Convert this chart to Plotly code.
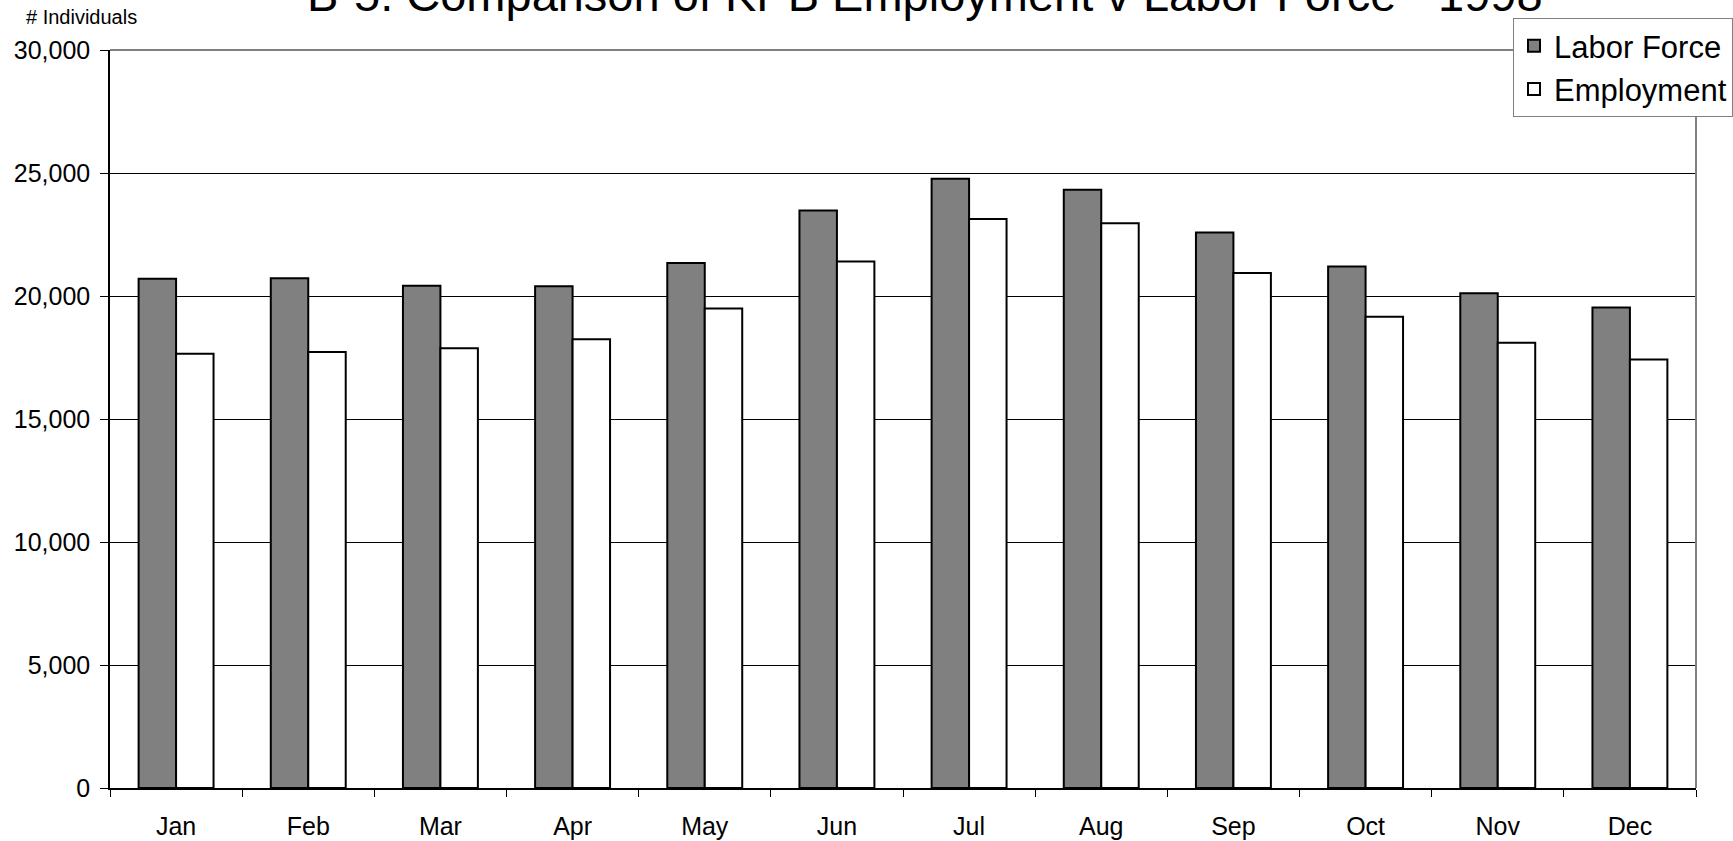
import plotly.graph_objects as go

months = ["Jan", "Feb", "Mar", "Apr", "May", "Jun", "Jul", "Aug", "Sep", "Oct", "Nov", "Dec"]
labor_force = [20700, 20720, 20420, 20400, 21340, 23480, 24770, 24320, 22580, 21200, 20110, 19530]
employment = [17650, 17720, 17880, 18240, 19490, 21400, 23130, 22960, 20930, 19160, 18100, 17420]
y_ticks = [0, 5000, 10000, 15000, 20000, 25000, 30000]

FONT = "Liberation Sans, Arial, sans-serif"

fig = go.Figure()
fig.add_trace(go.Bar(
    x=months, y=labor_force, name="Labor Force",
    marker=dict(color="#808080", line=dict(color="black", width=2)),
))
fig.add_trace(go.Bar(
    x=months, y=employment, name="Employment",
    marker=dict(color="white", line=dict(color="black", width=2)),
))

W, H = 1733, 841
L, R, T, B = 110, 37, 50, 53
PW, PH = W - L - R, H - T - B

fig.update_layout(
    width=W, height=H,
    margin=dict(l=L, r=R, t=T, b=B, autoexpand=False),
    paper_bgcolor="white", plot_bgcolor="white",
    barmode="group", bargap=0.433, bargroupgap=0,
    font=dict(family=FONT, color="black", size=25),
    showlegend=True,
    legend=dict(
        x=(1513 - L) / PW, y=(788 - 18) / PH,
        xanchor="left", yanchor="top",
        bgcolor="white", bordercolor="#808080", borderwidth=1,
        font=dict(size=31, family=FONT),
        tracegroupgap=0,
    ),
    xaxis=dict(
        showgrid=False, showline=True, linecolor="black", linewidth=1.5,
        ticks="outside", tickson="boundaries", ticklen=7, tickcolor="black",
        tickfont=dict(size=25), ticklabelstandoff=15,
    ),
    yaxis=dict(
        range=[0, 30000], tickvals=y_ticks, tickformat=",",
        showgrid=True, gridcolor="black", gridwidth=1,
        showline=True, linecolor="black", linewidth=1.5,
        ticks="outside", ticklen=8, tickcolor="black",
        tickfont=dict(size=25), ticklabelstandoff=5, zeroline=False,
    ),
    shapes=[
        dict(type="line", xref="paper", yref="paper", x0=0, x1=1, y0=1, y1=1,
             line=dict(color="#808080", width=2), layer="above"),
        dict(type="line", xref="paper", yref="paper", x0=1, x1=1, y0=0, y1=1,
             line=dict(color="#808080", width=2), layer="above"),
    ],
    annotations=[
        dict(text="B-5. Comparison of KPB Employment v Labor Force - 1998",
             xref="paper", yref="paper", x=(925 - L) / PW,
             y=(788 + 5) / PH, xanchor="center", yanchor="middle",
             showarrow=False, font=dict(size=47, family=FONT)),
        dict(text="# Individuals", xref="paper", yref="paper",
             x=(81 - L) / PW, y=(788 - 17) / PH,
             xanchor="center", yanchor="middle", showarrow=False,
             font=dict(size=20, family=FONT)),
    ],
)

fig.write_html(
    "out.html",
    config={"displayModeBar": False},
    post_script="document.body.style.margin='0';document.body.style.overflow='hidden';",
)
